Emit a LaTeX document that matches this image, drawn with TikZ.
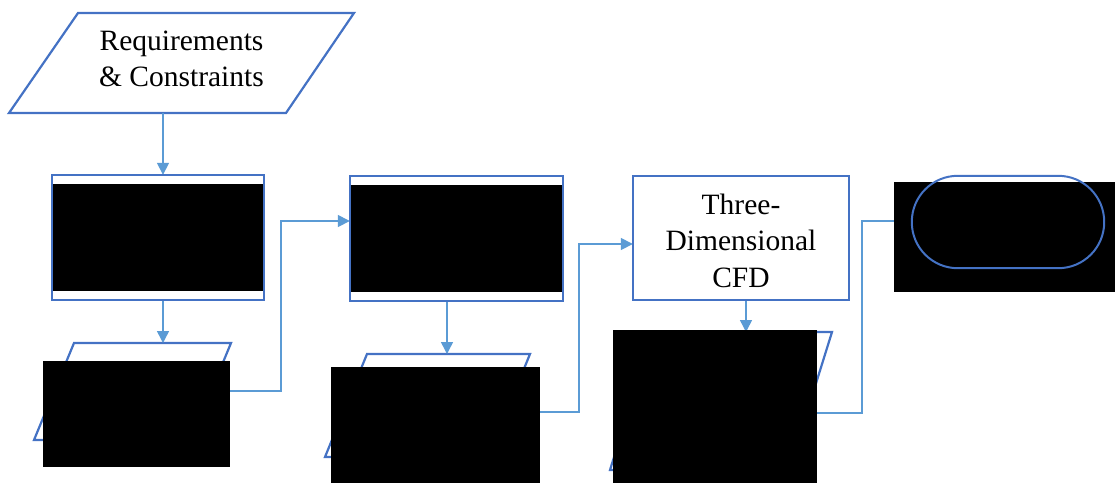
\documentclass[tikz,border=0pt]{standalone}
\usepackage{fontspec}
\setmainfont{Liberation Serif}
\usetikzlibrary{arrows.meta}
\definecolor{shapeblue}{HTML}{4472C4}
\definecolor{connblue}{HTML}{5B9BD5}
\tikzset{
  shp/.style={draw=shapeblue, line width=2.2pt, line join=miter},
  boxnode/.style={shp, rectangle, inner sep=0pt, align=center},
  conn/.style={draw=connblue, line width=1.5pt, -{Triangle[length=12pt,width=12pt]}},
  redact/.style={fill=black},
  txt/.style={font=\fontsize{29.5}{36.5}\selectfont, align=center, inner sep=0pt}
}
\begin{document}
\begin{tikzpicture}[x=1pt,y=-1pt]
\useasboundingbox (0,0) rectangle (1115,483);
% parallelogram 1: Requirements & Constraints
\draw[shp] (78,13) -- (354,13) -- (286,113) -- (9,113) -- cycle;
\node[txt] (req) at (181.5,59) {Requirements\\\& Constraints};
\coordinate (p1b) at (163,113);
% parallelogram 2
\draw[shp] (74,343) -- (231,343) -- (191,440) -- (34,440) -- cycle;
\coordinate (p2t) at (163,343);
\coordinate (p2r) at (211,391);
% parallelogram 3
\draw[shp] (367,354) -- (530,354) -- (488,457) -- (325,457) -- cycle;
\coordinate (p3t) at (447,354);
\coordinate (p3r) at (506,412);
% parallelogram 4
\draw[shp] (653,332) -- (832,332) -- (789,470) -- (610,470) -- cycle;
\coordinate (p4t) at (746,332);
\coordinate (p4r) at (807,413);
% box positions
\path (158,237.5) node[rectangle, minimum width=212pt, minimum height=125pt, inner sep=0pt] (r1) {};
\path (456.5,238.5) node[rectangle, minimum width=213pt, minimum height=125pt, inner sep=0pt] (r2) {};
\path (741,238) node[rectangle, minimum width=216pt, minimum height=124pt, inner sep=0pt] (r3) {};
\path (1008,222) node[rectangle, minimum width=192pt, minimum height=92pt, inner sep=0pt] (term) {};
% bend coordinates
\coordinate (k1) at (281,221);
\coordinate (k2) at (579,244);
\coordinate (k3) at (862,221);
% connectors
\draw[conn] (p1b) -- (p1b |- r1.north);
\draw[conn] (p1b |- r1.south) -- (p2t);
\draw[conn] (p2r) -- (p2r -| k1) -- (k1) -- (r2.west |- k1);
\draw[conn] (p3t |- r2.south) -- (p3t);
\draw[conn] (p3r) -- (p3r -| k2) -- (k2) -- (r3.west |- k2);
\draw[conn] (p4t |- r3.south) -- (p4t);
\draw[conn] (p4r) -- (p4r -| k3) -- (k3) -- (term.west |- k3);
% redaction boxes
\fill[redact] (52,184) rectangle (264,291);
\fill[redact] (350,185) rectangle (562,292);
\fill[redact] (43,361) rectangle (230,467);
\fill[redact] (331,367) rectangle (540,483);
\fill[redact] (613,330) rectangle (817,483);
\fill[redact] (894,182) rectangle (1115,292);
% outlines on top
\draw[shp] (r1.north west) rectangle (r1.south east);
\draw[shp] (r2.north west) rectangle (r2.south east);
\node[boxnode, minimum width=216pt, minimum height=124pt] (r3b) at (r3) {};
\node[txt] (cfd) at (741,240.5) {Three-\\Dimensional\\CFD};
\draw[shapeblue, line width=2pt, rounded corners=46pt] (term.north west) rectangle (term.south east);
\end{tikzpicture}
\end{document}
